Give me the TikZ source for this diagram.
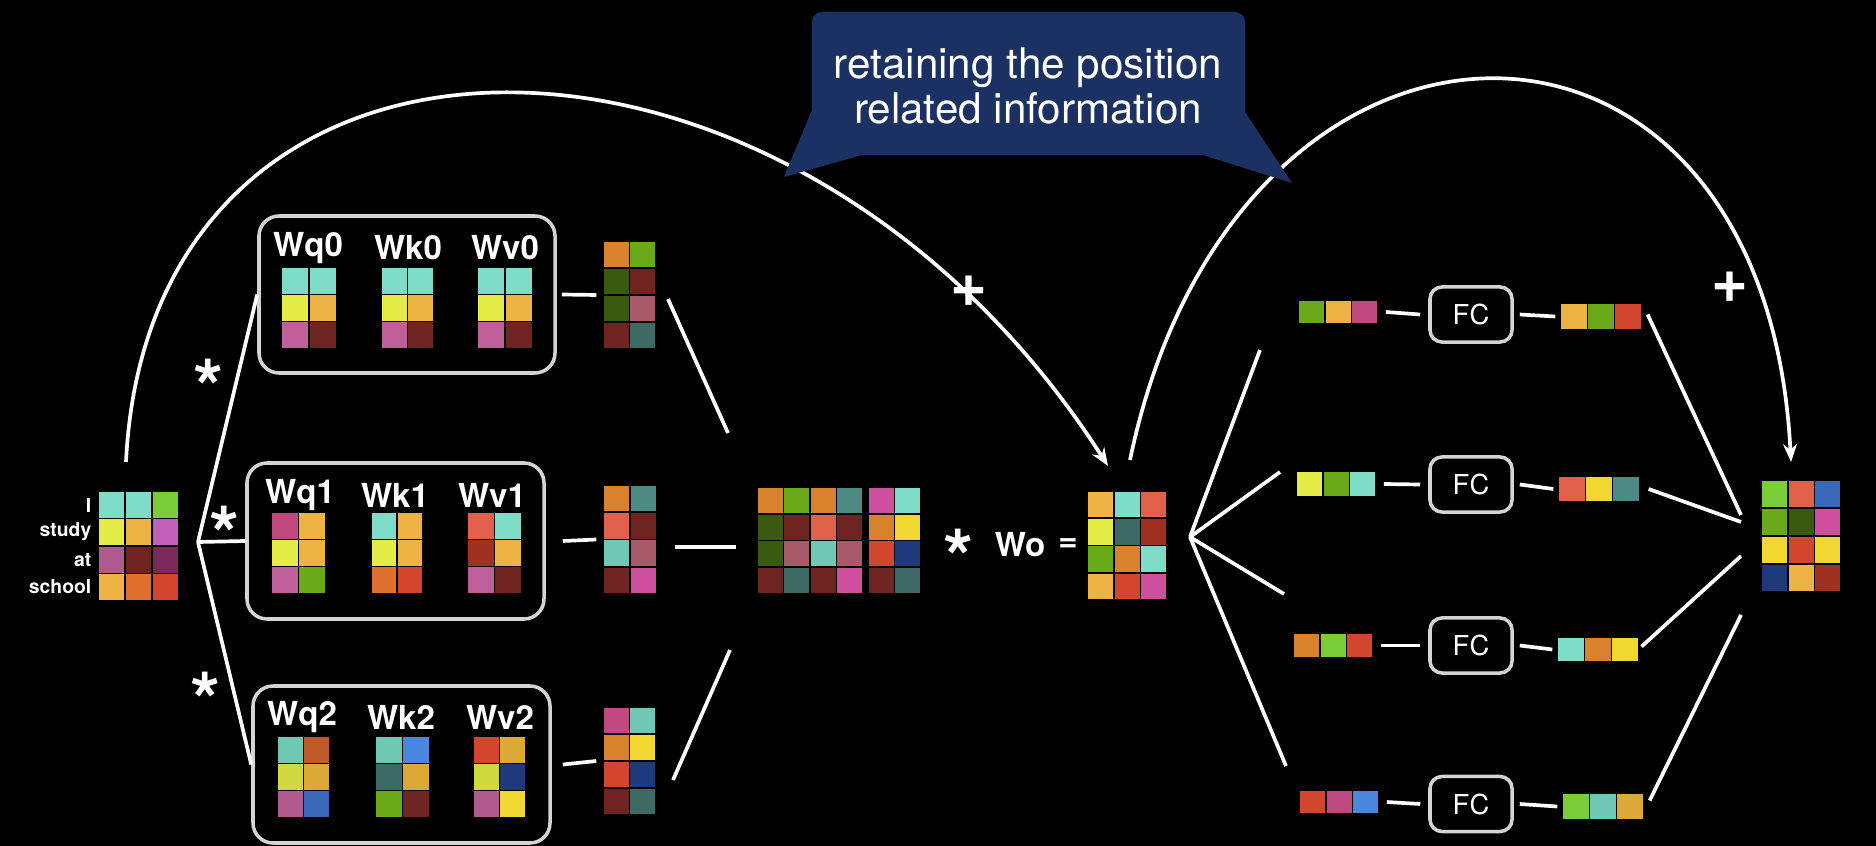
\documentclass[tikz,border=0pt]{standalone}
\usepackage{fontspec}
\setmainfont{TeX Gyre Heros}
\setsansfont{TeX Gyre Heros}
\usetikzlibrary{arrows.meta,fit}
\definecolor{tl}{HTML}{7EDCC8}
\definecolor{tm}{HTML}{6EC8B4}
\definecolor{lg}{HTML}{7ACC38}
\definecolor{gr}{HTML}{6AAA1A}
\definecolor{dg}{HTML}{3A5A10}
\definecolor{ye}{HTML}{E4EC48}
\definecolor{go}{HTML}{F0D830}
\definecolor{yo}{HTML}{D0D840}
\definecolor{oc}{HTML}{EDB445}
\definecolor{oc2}{HTML}{DCA838}
\definecolor{mg}{HTML}{C060B8}
\definecolor{pk}{HTML}{C0609A}
\definecolor{mv}{HTML}{B05A8E}
\definecolor{dr}{HTML}{6E2420}
\definecolor{dp}{HTML}{7A2A5A}
\definecolor{orn}{HTML}{E0702E}
\definecolor{o2}{HTML}{D8822E}
\definecolor{rd}{HTML}{D2452E}
\definecolor{sa}{HTML}{E0604A}
\definecolor{brk}{HTML}{A03020}
\definecolor{ro}{HTML}{A85A6A}
\definecolor{dt}{HTML}{3E6A66}
\definecolor{t3}{HTML}{4E8A84}
\definecolor{bl}{HTML}{4A88E0}
\definecolor{b2}{HTML}{3A68B8}
\definecolor{nv}{HTML}{1E3A7A}
\definecolor{ra}{HTML}{C04A80}
\definecolor{bn}{HTML}{C05A28}
\definecolor{hp}{HTML}{D050A0}
\definecolor{navybox}{HTML}{1B3163}
\definecolor{boxgray}{HTML}{D4D4D4}
\tikzset{
  cellst/.style={draw=black, line width=0.45pt},
  conn/.style={draw=white, line width=1.05pt},
  hbox/.style={draw=boxgray, line width=1pt, rounded corners=0.2cm, inner sep=0pt},
  fcbox/.style={draw=boxgray, line width=1pt, rounded corners=0.12cm, fill=black, text=white,
    font=\fontsize{7.8}{9}\selectfont, inner sep=0pt, minimum width=0.82cm, minimum height=0.55cm},
  wlab/.style={text=white, font=\bfseries\fontsize{9.4}{10}\selectfont, inner sep=0pt},
  toklab/.style={text=white, font=\bfseries\fontsize{5.5}{6}\selectfont, anchor=east, inner sep=0pt},
  plussign/.style={text=white, font=\bfseries\fontsize{18}{18}\selectfont, inner sep=0pt},
  astsign/.style={text=white, font=\bfseries\fontsize{22}{22}\selectfont, inner sep=0pt, yshift=-0.16cm},
  arr/.style={conn, -{Stealth[length=0.18cm,width=0.14cm]}},
  callout/.style={fill=navybox},
  matnode/.style={inner sep=0pt, draw=none}
}
% name, x0, y0, cw, ch, ncol, nrow, rows
\newcommand\gridm[8]{%
  \foreach \rr [count=\i from 0] in {#8} {
    \foreach \cc [count=\j from 0] in \rr {
      \path[cellst, fill=\cc] ({#2+\j*#4},{#3+\i*#5}) rectangle ++(#4,#5);
    }
  }
  \node[matnode, fit={(#2,#3) ({#2+#6*#4},{#3+#7*#5})}] (#1) {};
}
\begin{document}
\begin{tikzpicture}[x=0.01cm,y=-0.01cm]
\fill[black] (0,0) rectangle (1876,846);
\useasboundingbox (0,0) rectangle (1876,846);

% input matrix
\gridm{inp}{98}{491}{27}{27.5}{3}{4}{{tl,tl,lg},{ye,oc,mg},{mv,dr,dp},{oc,orn,rd}}
\node[toklab] (tI) at (92,505) {I};
\node[toklab] (tstudy) at (92,532) {study};
\node[toklab] (tat) at (92,560) {at};
\node[toklab] (tschool) at (92,587) {school};

% head boxes
\node[hbox, fit={(259,216)(555,373)}] (h0) {};
\node[hbox, fit={(247,463)(544,619)}] (h1) {};
\node[hbox, fit={(253,686)(550,843)}] (h2) {};

\node[wlab] (lq0) at (308,248) {Wq0};
\node[wlab] (lk0) at (408,248) {Wk0};
\node[wlab] (lv0) at (505,248) {Wv0};
\gridm{wq0}{281}{267}{28}{27.3}{2}{3}{{tl,tl},{ye,oc},{pk,dr}}
\gridm{wk0}{381}{267}{26.5}{27.3}{2}{3}{{tl,tl},{ye,oc},{pk,dr}}
\gridm{wv0}{477}{267}{28}{27.3}{2}{3}{{tl,tl},{ye,oc},{pk,dr}}

\node[wlab] (lq1) at (300,495) {Wq1};
\node[wlab] (lk1) at (395,495) {Wk1};
\node[wlab] (lv1) at (492,495) {Wv1};
\gridm{wq1}{271}{512}{27.5}{27.3}{2}{3}{{ra,oc},{ye,oc},{pk,gr}}
\gridm{wk1}{371}{512}{26}{27.3}{2}{3}{{tl,oc},{ye,oc},{orn,rd}}
\gridm{wv1}{467}{512}{27.5}{27.3}{2}{3}{{sa,tl},{brk,oc},{pk,dr}}

\node[wlab] (lq2) at (302,717) {Wq2};
\node[wlab] (lk2) at (401,717) {Wk2};
\node[wlab] (lv2) at (500,717) {Wv2};
\gridm{wq2}{277}{736}{26.5}{27.3}{2}{3}{{tm,bn},{yo,oc2},{mv,b2}}
\gridm{wk2}{375}{736}{27.5}{27.3}{2}{3}{{tm,bl},{dt,oc2},{gr,dr}}
\gridm{wv2}{473}{736}{26.5}{27.3}{2}{3}{{rd,oc2},{yo,nv},{mv,go}}

% head outputs
\gridm{o0}{603}{241}{26.5}{27}{2}{4}{{o2,gr},{dg,dr},{dg,ro},{dr,dt}}
\gridm{o1}{603}{485}{27}{27.25}{2}{4}{{o2,t3},{sa,dr},{tm,ro},{dr,hp}}
\gridm{o2}{603}{707}{26.5}{27}{2}{4}{{ra,tm},{o2,go},{rd,nv},{dr,dt}}

% concat
\gridm{catA}{757}{487}{26.5}{26.75}{4}{4}{{o2,gr,o2,t3},{dg,dr,sa,dr},{dg,ro,tm,ro},{dr,dt,dr,hp}}
\gridm{catB}{868}{487}{26.5}{26.75}{2}{4}{{hp,tl},{o2,go},{rd,nv},{dr,dt}}

\node[astsign] (ast3) at (959,541) {*};
\node[wlab] (wol) at (1020,545) {Wo};
\node[wlab] (eq) at (1068,545) {=};
\gridm{wo}{1087}{491}{26.7}{27.25}{3}{4}{{oc,tl,sa},{ye,dt,brk},{gr,o2,tl},{oc,rd,hp}}

% FFN rows
\gridm{in0}{1298}{300}{26.7}{24}{3}{1}{{gr,oc,ra}}
\gridm{in1}{1296}{471}{26.7}{26}{3}{1}{{ye,gr,tl}}
\gridm{in2}{1293}{633}{26.7}{25}{3}{1}{{o2,lg,rd}}
\gridm{in3}{1299}{790}{26.7}{24}{3}{1}{{rd,ra,bl}}
\node[fcbox] (fc0) at (1471,314.5) {FC};
\node[fcbox] (fc1) at (1471,484.5) {FC};
\node[fcbox] (fc2) at (1471,645.5) {FC};
\node[fcbox] (fc3) at (1471,804) {FC};
\gridm{out0}{1560}{303}{27.3}{27}{3}{1}{{oc,gr,rd}}
\gridm{out1}{1558}{476}{27.3}{26}{3}{1}{{sa,go,t3}}
\gridm{out2}{1557}{637}{27.3}{25}{3}{1}{{tl,o2,go}}
\gridm{out3}{1562}{793}{27.3}{27}{3}{1}{{lg,tm,oc2}}

% final
\gridm{fin}{1761}{480}{26.7}{28}{3}{4}{{lg,sa,b2},{gr,dg,hp},{go,rd,go},{nv,oc,brk}}

% signs
\node[astsign] (ast0) at (209,371) {*};
\node[astsign] (ast1) at (225,518) {*};
\node[astsign] (ast2) at (206,684) {*};
\node[plussign] (plus0) at (969,291) {+};
\node[plussign] (plus1) at (1730,287) {+};

% coordinates for free ends
\coordinate (fanA) at (198,542);
\coordinate (cat0s) at (668,299);
\coordinate (cat0e) at (728,433);
\coordinate (cat1s) at (675,547);
\coordinate (cat1e) at (736,547);
\coordinate (cat2s) at (673,780);
\coordinate (cat2e) at (730,650);
\coordinate (fanB) at (1190,537);
\coordinate (fb0) at (1260,350);
\coordinate (fb1) at (1280,472);
\coordinate (fb2) at (1284,594);
\coordinate (fb3) at (1286,766);
\coordinate (fc0e) at (1741,515);
\coordinate (fc1e) at (1741,522);
\coordinate (fc2e) at (1741,556);
\coordinate (fc3e) at (1741,615);
\coordinate (arc1s) at (126,462);
\coordinate (arc1e) at (1108,466);
\coordinate (arc2s) at (1130,460);
\coordinate (arc2e) at (1791,462);

% connectors: input fan
\draw[conn] (fanA) -- (h0.west);
\draw[conn] (fanA) -- (h1.west);
\draw[conn] (fanA) -- (h2.west);
% head to outputs
\draw[conn] ([xshift=0.05cm]h0.east) -- ([xshift=-0.06cm]o0.west);
\draw[conn] ([xshift=0.17cm]h1.east) -- ([xshift=-0.06cm]o1.west);
\draw[conn] ([xshift=0.11cm]h2.east) -- ([xshift=-0.06cm]o2.west);
% to concat
\draw[conn] (cat0s) -- (cat0e);
\draw[conn] (cat1s) -- (cat1e);
\draw[conn] (cat2s) -- (cat2e);
% wo fan
\draw[conn] (fanB) -- (fb0);
\draw[conn] (fanB) -- (fb1);
\draw[conn] (fanB) -- (fb2);
\draw[conn] (fanB) -- (fb3);
% FFN lines
\foreach \k in {0,1,2,3}{
  \draw[conn] ([xshift=0.07cm]in\k.east) -- ([xshift=-0.08cm]fc\k.west);
  \draw[conn] ([xshift=0.06cm]fc\k.east) -- ([xshift=-0.04cm]out\k.west);
}
\draw[conn] ([xshift=0.05cm,yshift=0.02cm]out0.east) -- (fc0e);
\draw[conn] ([xshift=0.08cm]out1.east) -- (fc1e);
\draw[conn] ([xshift=0.02cm,yshift=0.03cm]out2.east) -- (fc2e);
\draw[conn] ([xshift=0.05cm,yshift=0.06cm]out3.east) -- (fc3e);
% residual arcs
\draw[arr] (arc1s) .. controls (150,-30) and (790,-30) .. (arc1e);
\draw[arr] (arc2s) .. controls (1235,-45) and (1765,-50) .. (arc2e);

% callout (on top of arcs)
\fill[callout] (812,110) [rounded corners=0.1cm]-- (812,12) -- (1245,12) [sharp corners]-- (1245,112) -- (1292,183) -- (1203,155) -- (862,155) -- (784,177) -- cycle;
\node[text=white, align=center, font=\fontsize{12}{13}\selectfont, inner sep=0pt] (note) at (1028,86) {retaining the position\\related information};
\end{tikzpicture}
\end{document}
